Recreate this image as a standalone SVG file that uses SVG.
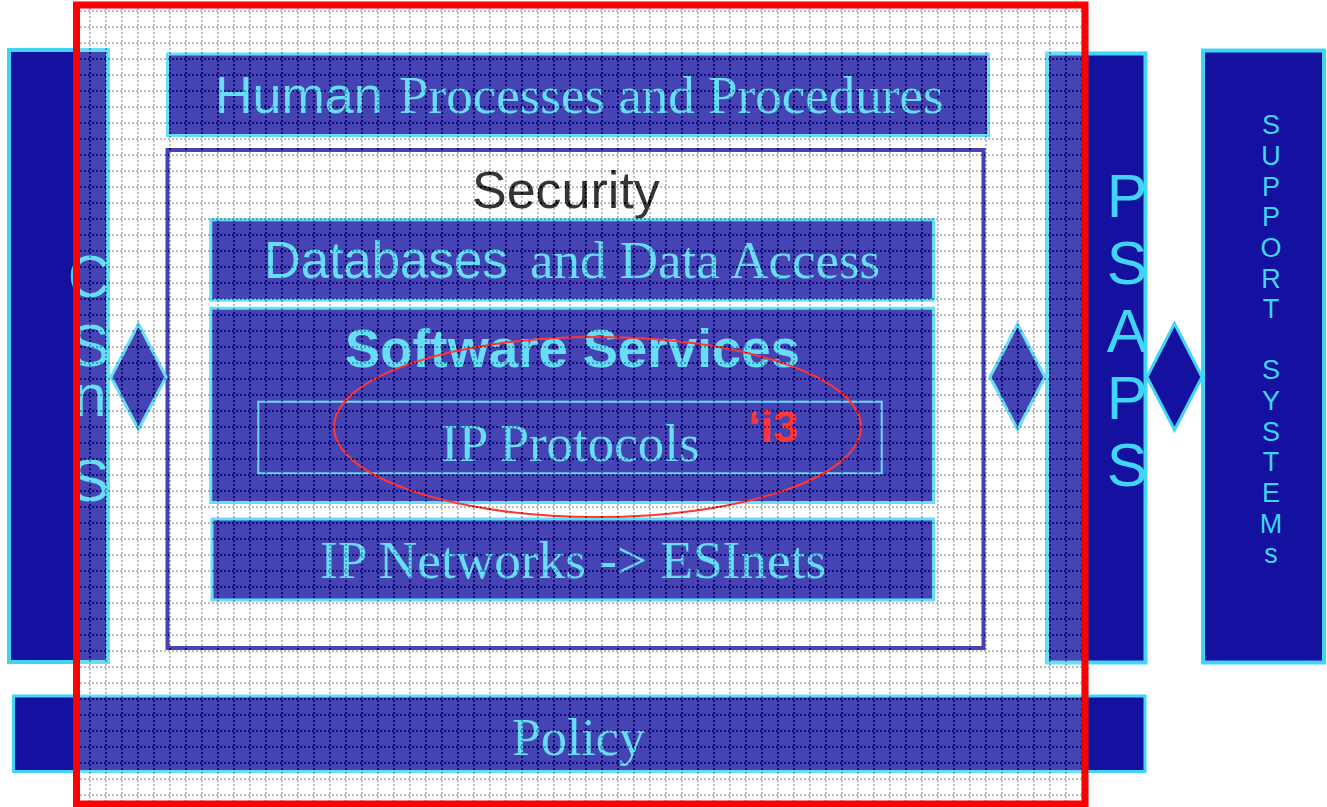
<svg xmlns="http://www.w3.org/2000/svg" width="1327" height="807" viewBox="0 0 1327 807">
<style>
.col{fill:#1410a0;stroke:#40d4f6;stroke-width:4}
.box{fill:#1410a0;stroke:#40d4f6;stroke-width:3}
.dia{fill:#1410a0;stroke:#40d4f6;stroke-width:3}
.sans{font-family:"Liberation Sans",Arial,sans-serif}
.serif{font-family:"Liberation Serif","Times New Roman",serif}
.cy{fill:#40d4f6}
.vl{font-family:"Liberation Sans",Arial,sans-serif;fill:#40d4f6;text-anchor:middle}
</style>
<defs>
<pattern id="grid" width="16" height="16" patternUnits="userSpaceOnUse">
<path fill="#fff" fill-opacity="0.21" fill-rule="evenodd" shape-rendering="crispEdges" d="M0 0H16V16H0Z M0 10h2v2h-2z M4 10h2v2h-2z M8 10h2v2h-2z M12 10h2v2h-2z M9 0h2v2h-2z M9 4h2v2h-2z M9 8h2v2h-2z M9 12h2v2h-2z"/>
<path fill="#000" fill-opacity="0.25" shape-rendering="crispEdges" d="M0 10h2v2h-2z M4 10h2v2h-2z M8 10h2v2h-2z M12 10h2v2h-2z M9 0h2v2h-2z M9 4h2v2h-2z M9 8h2v2h-2z M9 12h2v2h-2z"/>
</pattern>
</defs>
<rect width="1327" height="807" fill="#fff"/>
<g id="csus">
<rect class="col" x="9" y="50" width="99" height="612"/>
<text class="vl" font-size="59" x="89" y="297">C</text>
<text class="vl" font-size="59" x="90" y="366">S</text>
<text class="vl" font-size="60" x="90" y="416">n</text>
<text class="vl" font-size="59" x="90" y="501">S</text>
</g>
<g id="psaps">
<rect class="col" x="1047" y="53.5" width="98.5" height="609"/>
<text class="vl" font-size="61" x="1127" y="217">P</text>
<text class="vl" font-size="61" x="1127" y="284">S</text>
<text class="vl" font-size="61" x="1127" y="352">A</text>
<text class="vl" font-size="61" x="1127" y="419">P</text>
<text class="vl" font-size="61" x="1127" y="486">S</text>
</g>
<g id="support">
<rect class="col" x="1203" y="50.5" width="121" height="612"/>
<g class="vl" font-size="27">
<text x="1271" y="134">S</text>
<text x="1271" y="165">U</text>
<text x="1271" y="196">P</text>
<text x="1271" y="226">P</text>
<text x="1271" y="257">O</text>
<text x="1271" y="288">R</text>
<text x="1271" y="318">T</text>
<text x="1271" y="379">S</text>
<text x="1271" y="410">Y</text>
<text x="1271" y="441">S</text>
<text x="1271" y="471">T</text>
<text x="1271" y="502">E</text>
<text x="1271" y="533">M</text>
<text x="1271" y="563">s</text>
</g>
</g>
<g id="policy">
<rect class="box" x="13.5" y="696" width="1131.5" height="75.5"/>
<text class="serif cy" font-size="52" x="512" y="755">Policy</text>
</g>
<g id="human">
<rect class="box" x="167.5" y="54" width="821" height="81.5"/>
<text class="cy" y="112.5"><tspan class="sans" font-size="52" x="215">Human</tspan><tspan class="serif" font-size="53" x="399">Processes and Procedures</tspan></text>
</g>
<g id="security">
<rect x="167.5" y="150" width="816" height="498" fill="#fff" stroke="#1410a0" stroke-width="4"/>
<text class="sans" font-size="52" fill="#000" x="472" y="208">Security</text>
</g>
<g id="databases">
<rect class="box" x="210.8" y="219.8" width="722.7" height="80.4"/>
<text class="cy" y="278.3"><tspan class="sans" font-size="51" x="264">Databases</tspan><tspan class="serif" font-size="53" x="530">and Data Access</tspan></text>
</g>
<g id="software">
<rect class="box" x="210.8" y="308.2" width="722.7" height="194.3"/>
<text class="sans cy" font-size="52.8" font-weight="bold" x="345" y="367">Software Services</text>
</g>
<g id="ipprotocols">
<rect x="258.3" y="401.7" width="623.4" height="71.6" fill="none" stroke="#40d4f6" stroke-width="2"/>
<text class="serif cy" font-size="53" x="441" y="461">IP Protocols</text>
</g>
<g id="ipnetworks">
<rect class="box" x="212" y="519" width="721.5" height="81"/>
<text class="serif cy" font-size="53.3" x="320" y="578">IP Networks -&gt; ESInets</text>
</g>
<g id="connectors">
<polygon class="dia" points="111,377 138.5,324 166,377 138.5,429.5"/>
<polygon class="dia" points="990,377 1017.5,324 1045,377 1017.5,429.5"/>
<polygon class="dia" points="1147,377 1174.5,323.5 1202,377 1174.5,430"/>
</g>
<g id="i3">
<ellipse cx="597.5" cy="427" rx="263.5" ry="90" fill="none" stroke="#ff0000" stroke-width="2"/>
<text class="sans" font-size="45" font-weight="bold" fill="#ff0000" x="748" y="442">‘i3</text>
</g>
<rect x="76.5" y="5" width="1008.5" height="799" fill="url(#grid)"/>
<rect id="frame" x="76.5" y="5" width="1008.5" height="799" fill="none" stroke="#ff0000" stroke-width="7"/>
</svg>
